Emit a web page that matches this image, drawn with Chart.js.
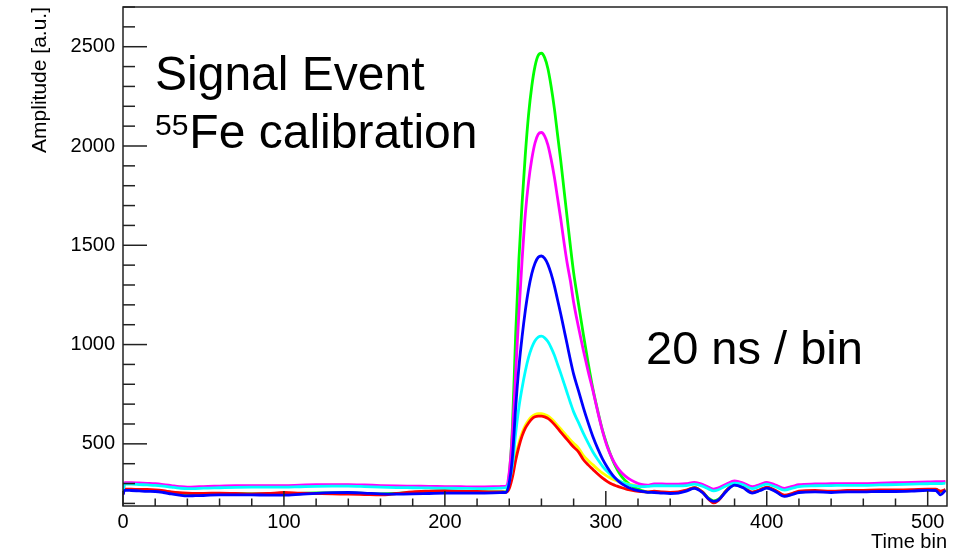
<!DOCTYPE html>
<html>
<head>
<meta charset="utf-8">
<script src="https://cdn.jsdelivr.net/npm/chart.js@4.4.0/dist/chart.umd.min.js"></script>
<style>
html,body{margin:0;padding:0;background:#fff;}
canvas{display:block;}
</style>
</head>
<body>
<canvas id="c" width="961" height="554"></canvas>
<script>
// ---- data ----
const timeBins = [0,1,5,10,15,20,25,30,35,40,45,50,60,70,80,90,100,110,120,130,140,150,160,170,180,190,200,210,220,230,234,236,
  238,240,242,244,246,248,250,252,254,256,258,260,262,264,266,268,270,272,274,276,278,280,283,286,289,292,295,298,301,304,307,310,314,318,322,326,
  330,335,340,345,350,355,360,364,367,370,375,380,385,391,396,400,405,411,416,420,430,440,450,460,470,480,490,500,505,508,511];

const green = [248,270,269,267,266,265,261,255,250,247,247,248,250,249,248,248,250,251,253,253,253,251,248,250,255,258,260,259,258,258,258,258,
  257,345,589,1053,1428,1716,1959,2158,2301,2401,2456,2467,2445,2390,2301,2191,2058,1926,1782,1638,1495,1362,1207,1053,909,776,666,566,489,423,372,334,301,279,266,257,
  258,256,254,256,265,279,258,225,213,221,265,294,283,255,268,280,265,238,248,258,261,259,262,262,264,265,266,270,270,258,269];

const magenta = [245,305,305,303,301,299,295,290,285,282,283,285,287,289,290,290,290,292,294,295,295,293,290,288,287,286,285,284,283,284,285,286,
  287,358,554,857,1160,1427,1658,1819,1934,2015,2059,2068,2050,2006,1934,1845,1739,1632,1516,1409,1320,1213,1088,973,866,768,661,563,483,426,383,353,326,308,296,292,
  298,298,297,297,299,306,296,281,272,278,298,313,304,284,296,306,294,276,286,294,298,299,300,300,302,304,306,308,309,309,311];

const blue = [245,266,265,263,261,260,255,248,242,238,239,240,243,243,243,242,242,246,251,254,255,252,248,247,248,250,252,252,252,253,254,255,
  256,304,435,684,887,1041,1172,1279,1357,1410,1440,1446,1434,1404,1357,1297,1226,1154,1077,1000,922,851,768,684,607,536,476,423,381,345,318,298,280,268,261,256,
  255,252,250,252,262,276,255,222,210,218,262,292,280,252,265,277,262,235,245,255,258,255,258,258,260,260,262,266,265,243,266];

const cyan = [255,297,297,295,293,291,287,282,277,274,275,277,279,281,282,282,282,284,286,287,287,285,282,280,279,278,277,276,275,276,277,278,
  280,310,394,554,684,783,867,935,985,1019,1038,1042,1034,1015,985,947,901,855,806,756,707,661,608,554,505,459,421,387,360,337,320,307,295,288,285,286,
  289,289,288,288,290,297,287,272,263,269,289,302,295,275,287,297,285,267,277,285,289,290,291,291,293,295,297,299,300,300,302];

const yellow = [255,302,302,300,298,296,292,287,282,279,280,282,284,286,287,287,287,289,291,292,292,290,287,285,284,283,282,281,280,281,282,283,
  284,302,358,439,505,556,593,619,637,648,652,652,648,641,628,612,593,575,556,538,520,503,479,442,416,394,372,352,336,323,313,306,297,291,287,290,
  295,295,294,294,296,303,293,278,269,275,295,308,301,281,293,303,291,273,283,291,295,296,297,297,299,301,303,305,306,306,308];

const red = [250,272,272,270,270,268,264,258,254,252,251,251,252,250,248,250,255,252,250,248,247,245,243,250,258,262,265,262,260,258,258,258,
  256,275,333,417,486,540,579,605,625,636,640,640,636,628,615,598,579,559,540,521,502,484,460,421,394,371,348,327,310,296,287,279,269,263,259,258,
  262,258,256,258,267,280,258,220,203,215,266,296,285,257,270,282,268,242,251,262,265,262,265,266,268,268,269,272,272,262,270];

const xTickLabels = [0,100,200,300,400,500];
const yTickLabels = [500,1000,1500,2000,2500];
const xTitle = 'Time bin';
const yTitle = 'Amplitude [a.u.]';
const noteTitle = 'Signal Event';
const noteIsotopeMass = '55';
const noteIsotope = 'Fe calibration';
const noteBin = '20 ns / bin';

// ---- styling ----
const FONT = '"Liberation Sans", Arial, Helvetica, sans-serif';
const series = [
  {name:'blue', values: blue, color:'#0000ff'},
  {name:'cyan', values: cyan, color:'#00ffff'},
  {name:'red', values: red, color:'#ff0000'},
  {name:'magenta', values: magenta, color:'#ff00ff'},
  {name:'yellow', values: yellow, color:'#ffff00'},
  {name:'green', values: green, color:'#00ff00'}
];

const decor = {
  id: 'decor',
  afterDatasetsDraw(chart) {
    const {ctx, chartArea: a, scales: {x, y}} = chart;
    ctx.save();
    ctx.strokeStyle = '#222';
    ctx.lineWidth = 1.5;
    for (let v = 0; v <= 512; v += 20) {
      const px = x.getPixelForValue(v);
      const len = v % 100 === 0 ? 15 : 7.5;
      ctx.beginPath(); ctx.moveTo(px, a.bottom); ctx.lineTo(px, a.bottom - len); ctx.stroke();
    }
    for (let v = 200; v <= 2700; v += 100) {
      const py = y.getPixelForValue(v);
      const len = v % 500 === 0 ? 24 : 12;
      ctx.beginPath(); ctx.moveTo(a.left, py); ctx.lineTo(a.left + len, py); ctx.stroke();
    }
    ctx.strokeRect(a.left, a.top, a.right - a.left, a.bottom - a.top);

    ctx.fillStyle = '#000';
    ctx.textAlign = 'left';
    ctx.textBaseline = 'alphabetic';
    ctx.font = '48px ' + FONT;
    ctx.fillText(noteTitle, a.left + 32, 89.5);
    ctx.font = '30px ' + FONT;
    ctx.fillText(noteIsotopeMass, a.left + 32, 135);
    const w = ctx.measureText(noteIsotopeMass).width;
    ctx.font = '48px ' + FONT;
    ctx.fillText(noteIsotope, a.left + 32 + w + 1, 148);
    ctx.font = '47px ' + FONT;
    ctx.fillText(noteBin, 646, 364);
    ctx.restore();
  }
};

new Chart(document.getElementById('c'), {
  type: 'line',
  data: {
    datasets: series.map(s => ({
      label: s.name,
      data: timeBins.map((t, i) => ({x: t, y: s.values[i]})),
      borderColor: s.color,
      borderWidth: 2.8,
      pointRadius: 0,
      fill: false,
      cubicInterpolationMode: 'monotone'
    }))
  },
  options: {
    responsive: false,
    animation: false,
    devicePixelRatio: 1,
    layout: {padding: {top: 7, right: 14, left: 0, bottom: 0}},
    plugins: {legend: {display: false}, tooltip: {enabled: false}},
    scales: {
      x: {
        type: 'linear', min: 0, max: 512,
        afterBuildTicks: s => { s.ticks = xTickLabels.map(v => ({value: v})); },
        afterFit: s => { s.height = 48; s.paddingLeft = 0; s.paddingRight = 0; },
        grid: {display: false, drawTicks: false},
        border: {display: false},
        ticks: {font: {family: FONT, size: 20}, color: '#000', padding: 4, maxRotation: 0, autoSkip: false,
                callback: v => String(v)},
        title: {display: true, text: xTitle, align: 'end', color: '#000', font: {family: FONT, size: 20}, padding: {top: 0, bottom: 0}}
      },
      y: {
        type: 'linear', min: 187, max: 2700,
        afterBuildTicks: s => { s.ticks = yTickLabels.map(v => ({value: v})); },
        afterFit: s => { s.width = 123; s.paddingTop = 0; s.paddingBottom = 0; },
        grid: {display: false, drawTicks: false},
        border: {display: false},
        ticks: {font: {family: FONT, size: 20}, color: '#000', padding: 8, autoSkip: false,
                callback: v => String(v)},
        title: {display: true, text: yTitle, align: 'end', color: '#000', font: {family: FONT, size: 21}, padding: {top: 28, bottom: 0}}
      }
    }
  },
  plugins: [decor]
});
</script>
</body>
</html>
